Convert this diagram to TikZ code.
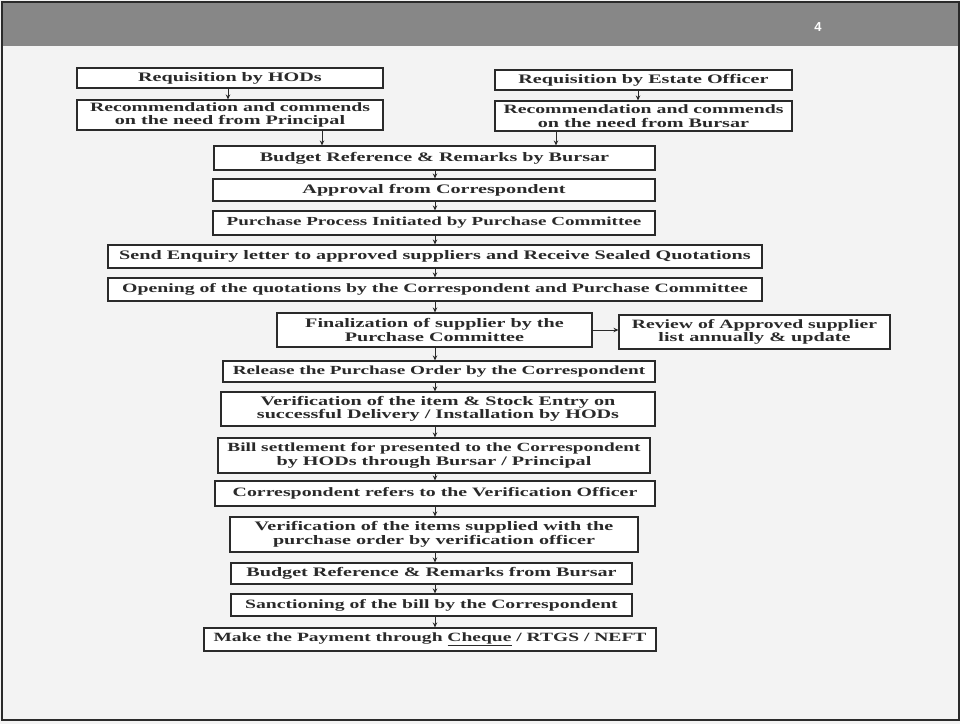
\documentclass[tikz,border=0pt]{standalone}
\usepackage{fontspec}
\usetikzlibrary{arrows.meta}
\newfontfamily\boxfont[FakeStretch=1.55]{Liberation Serif}
\newfontfamily\numfont{Liberation Sans}
\definecolor{bandgray}{HTML}{878787}
\definecolor{pagegray}{HTML}{F3F3F3}
\definecolor{inkgray}{HTML}{2A2A2A}
\tikzset{
  stepbox/.style={draw=inkgray, line width=1.1pt, fill=white, rectangle, inner sep=0pt,
    align=center, text=inkgray, font=\boxfont\bfseries\fontsize{13}{13.5}\selectfont},
  arr/.style={draw=inkgray, line width=0.9pt, -{Stealth[length=5pt,width=4.5pt]}}
}
\newcommand{\bx}[6]{% name, x1, x2, y1, y2, text
  \node[stepbox, minimum width={#3-#2}, minimum height={#5-#4}] (#1) at ({(#2+#3)/2},{(#4+#5)/2}) {#6};}
\newcommand{\fsz}[1]{\fontsize{#1}{13.5}\selectfont}
\begin{document}
\begin{tikzpicture}[x=1pt,y=-1pt]
\useasboundingbox (0,0) rectangle (960,724);
% page
\fill[pagegray] (0,0) rectangle (960,724);
\fill[bandgray] (2,3) rectangle (958,46);
\draw[inkgray, line width=2pt] (1.5,2) rectangle (958.5,720);
\node[text=white, font=\numfont\bfseries\fontsize{13}{13}\selectfont] (pg) at (818,27) {4};
% boxes
\bx{b1}{77}{383}{68}{88}{Requisition by HODs}
\bx{b2}{77}{383}{100}{130}{\fsz{12.75}Recommendation and commends\\on the need from Principal}
\bx{b3}{495}{792}{70}{90}{Requisition by Estate Officer}
\bx{b4}{495}{792}{101}{131}{\fsz{12.75}Recommendation and commends\\on the need from Bursar}
\bx{b5}{214}{655}{146}{170}{Budget Reference \& Remarks by Bursar}
\bx{b6}{213}{655}{179}{201}{Approval from Correspondent}
\bx{b7}{213}{655}{211}{235}{\fsz{12.3}Purchase Process Initiated by Purchase Committee}
\bx{b8}{108}{762}{245}{268}{Send Enquiry letter to approved suppliers and Receive Sealed Quotations}
\bx{b9}{108}{762}{278}{301}{\fsz{12.75}Opening of the quotations by the Correspondent and Purchase Committee}
\bx{b10}{277}{592}{313}{347}{Finalization of supplier by the\\Purchase Committee}
\bx{b11}{619}{890}{315}{349}{\fsz{12.7}Review of Approved supplier\\list annually \& update}
\bx{b12}{223}{655}{361}{382}{\fsz{12.4}Release the Purchase Order by the Correspondent}
\bx{b13}{221}{655}{392}{426}{Verification of the item \& Stock Entry on\\successful Delivery / Installation by HODs}
\bx{b14}{218}{650}{438}{473}{\fsz{12.45}Bill settlement for presented to the Correspondent\\by HODs through Bursar / Principal}
\bx{b15}{215}{655}{481}{506}{\fsz{12.8}Correspondent refers to the Verification Officer}
\bx{b16}{230}{638}{517}{552}{Verification of the items supplied with the\\purchase order by verification officer}
\bx{b17}{231}{632}{563}{584}{Budget Reference \& Remarks from Bursar}
\bx{b18}{231}{632}{594}{616}{\fsz{12.7}Sanctioning of the bill by the Correspondent}
\bx{b19}{204}{656}{628}{651}{\fsz{12.6}Make the Payment through \underline{Cheque} / RTGS / NEFT}
% axis coordinates
\coordinate (ax) at (435,0);
\coordinate (axl) at (228,0);
\coordinate (axp) at (322,0);
\coordinate (axr) at (638,0);
\coordinate (axb) at (556,0);
% connectors
\draw[arr] (b1.south -| axl) -- (b2.north -| axl);
\draw[arr] (b3.south -| axr) -- (b4.north -| axr);
\draw[arr] (b2.south -| axp) -- (b5.north -| axp);
\draw[arr] (b4.south -| axb) -- (b5.north -| axb);
\draw[arr] (b5.south -| ax) -- (b6.north -| ax);
\draw[arr] (b6.south -| ax) -- (b7.north -| ax);
\draw[arr] (b7.south -| ax) -- (b8.north -| ax);
\draw[arr] (b8.south -| ax) -- (b9.north -| ax);
\draw[arr] (b9.south -| ax) -- (b10.north -| ax);
\draw[arr] (b10.east) -- (b11.west |- b10.east);
\draw[arr] (b10.south -| ax) -- (b12.north -| ax);
\draw[arr] (b12.south -| ax) -- (b13.north -| ax);
\draw[arr] (b13.south -| ax) -- (b14.north -| ax);
\draw[arr] (b14.south -| ax) -- (b15.north -| ax);
\draw[arr] (b15.south -| ax) -- (b16.north -| ax);
\draw[arr] (b16.south -| ax) -- (b17.north -| ax);
\draw[arr] (b17.south -| ax) -- (b18.north -| ax);
\draw[arr] (b18.south -| ax) -- (b19.north -| ax);
\end{tikzpicture}
\end{document}
